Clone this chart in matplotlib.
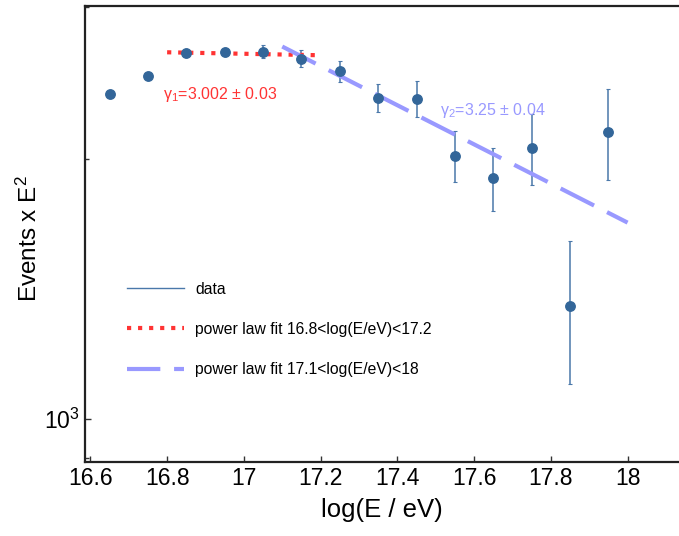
import matplotlib
matplotlib.use("Agg")
import matplotlib.pyplot as plt
from matplotlib.lines import Line2D
from matplotlib.ticker import LogLocator, LogFormatterMathtext, NullFormatter

plt.rcParams['font.family'] = ['Liberation Sans', 'DejaVu Sans']
plt.rcParams['mathtext.fontset'] = 'custom'
plt.rcParams['mathtext.rm'] = 'Liberation Sans'
plt.rcParams['mathtext.it'] = 'Liberation Sans:italic'

# data points
logE = [16.65, 16.75, 16.85, 16.95, 17.05, 17.15, 17.25, 17.35, 17.45,
        17.55, 17.65, 17.75, 17.85, 17.95]
events = [2376, 2493, 2651, 2660, 2662, 2612, 2526, 2354, 2348,
          2017, 1899, 2060, 1352, 2149]
errors = [8, 12, 18, 30, 45, 58, 72, 90, 110, 137, 160, 194, 255, 260]

# fit lines (end points)
fit1_x = [16.8, 17.2]
fit1_y = [2657, 2636]
fit2_x = [17.1, 18.0]
fit2_y = [2698, 1687]

col_data = '#336699'
col_fit1 = '#ff3333'
col_fit2 = '#9999ff'

fig = plt.figure(figsize=(6.79, 5.36), dpi=100)
ax = fig.add_axes([85/679, 74/536, 594/679, 456/536])

ax.errorbar(logE, events, yerr=errors, fmt='o', color=col_data, ms=6.8,
            elinewidth=1.1, ecolor='#4a78aa', capsize=1.5, capthick=0.8)
ax.plot(fit1_x, fit1_y, ':', color=col_fit1, lw=3)
ax.plot(fit2_x, fit2_y, color=col_fit2, lw=3, dashes=(9, 3.5))

ax.set_yscale('log')
ax.set_xlim(16.586, 18.134)
ax.set_ylim(891, 3006)
ax.set_xticks([16.6, 16.8, 17.0, 17.2, 17.4, 17.6, 17.8, 18.0])
ax.set_xticklabels(['16.6', '16.8', '17', '17.2', '17.4', '17.6', '17.8', '18'])
ax.yaxis.set_major_locator(LogLocator(base=10))
ax.yaxis.set_major_formatter(LogFormatterMathtext())
ax.yaxis.set_minor_locator(LogLocator(base=10, subs=range(2, 10)))
ax.yaxis.set_minor_formatter(NullFormatter())

ax.tick_params(axis='both', which='both', direction='in', labelsize=16.5,
               width=1.0, color='#333333')
ax.tick_params(axis='both', which='major', length=4)
ax.tick_params(axis='y', which='minor', length=3)
ax.tick_params(top=False, right=False)
for s in ['left', 'bottom', 'top']:
    ax.spines[s].set_linewidth(1.6)
    ax.spines[s].set_color('#222222')
ax.spines['right'].set_visible(False)

ax.set_xlabel('log(E / eV)', fontsize=18.5, labelpad=6)
ax.set_ylabel(r'Events x E$^2$', fontsize=17.5)
ax.yaxis.set_label_coords(-0.072, 0.49)

ax.text(16.79, 2347, r'$\mathregular{\gamma_1}$=3.002 $\pm$ 0.03', color=col_fit1,
        fontsize=11.5, va='baseline')
ax.text(17.511, 2248, r'$\mathregular{\gamma_2}$=3.25 $\pm$ 0.04', color=col_fit2,
        fontsize=11.5, va='baseline')

handles = [Line2D([], [], color='#4a78aa', lw=1.0),
           Line2D([], [], color=col_fit1, lw=3, ls=':'),
           Line2D([], [], color=col_fit2, lw=3, dashes=(8, 3.3))]
labels = ['data', 'power law fit 16.8<log(E/eV)<17.2',
          'power law fit 17.1<log(E/eV)<18']
ax.legend(handles, labels, loc='upper left', bbox_to_anchor=(0.070, 0.395),
          frameon=False, fontsize=11.3, handlelength=3.63, handletextpad=0.76,
          labelspacing=1.6, borderpad=0, borderaxespad=0)

fig.savefig('out.png', dpi=100)
